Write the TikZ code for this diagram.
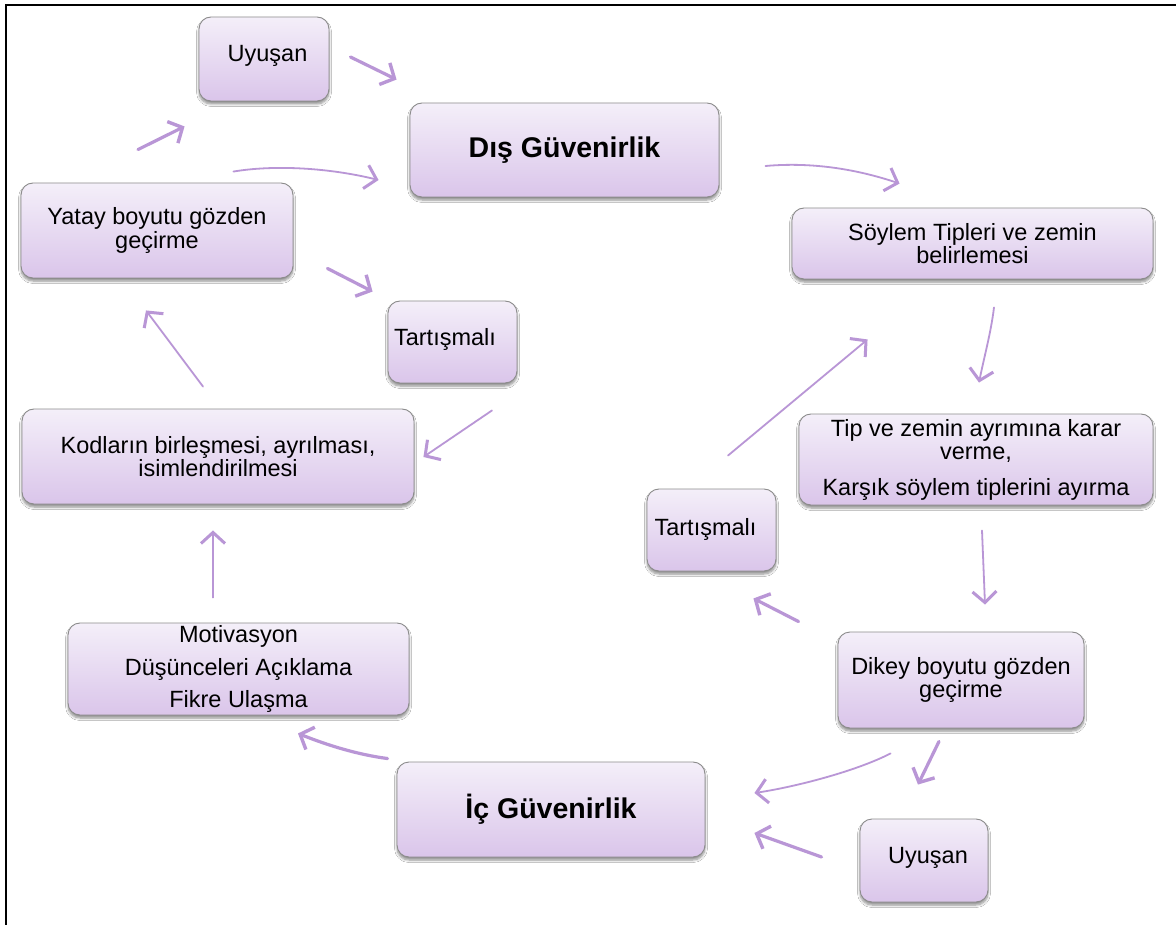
\documentclass[tikz,border=0pt]{standalone}
\usepackage{fontspec}
\setmainfont{Liberation Sans}
\usetikzlibrary{calc,arrows.meta,shadows.blur}
\definecolor{boxtop}{HTML}{F4EFF9}
\definecolor{boxbot}{HTML}{DAC5EA}
\definecolor{boxline}{HTML}{8C8C8C}
\definecolor{arrcol}{HTML}{B996D6}
\tikzset{
  box/.style={rectangle, rounded corners=12pt, draw=boxline, line width=0.9pt,
    top color=boxtop, bottom color=boxbot, inner sep=0pt, align=center,
    font=\fontsize{23.5}{23.5}\selectfont,
    blur shadow={shadow xshift=0pt, shadow yshift=-3pt, shadow blur steps=6, shadow blur radius=2.5pt, shadow opacity=45}},
  bigbox/.style={box, font=\fontsize{28.5}{30}\selectfont\bfseries},
  txt/.style={inner sep=0pt, font=\fontsize{23.5}{23.5}\selectfont},
  harrow/.style={draw=arrcol, line width=3.2pt, line cap=round,
    -{Straight Barb[length=11pt,width=24pt,line width=3.4pt]}},
  larrow/.style={draw=arrcol, line width=1.8pt, line cap=round,
    -{Straight Barb[length=11pt,width=24pt,line width=3pt]}},
}
\begin{document}
\begin{tikzpicture}[x=1pt,y=-1pt]
\useasboundingbox (0,0) rectangle (1176,925);
\fill[white] (0,0) rectangle (1176,925);
% frame
\draw[line width=2pt, black] (6,925) -- (6,5) -- (1176,5);

% boxes
\node[box, minimum width=130pt, minimum height=84pt] (uy1) at (264,59) {};
\node[txt] at (267.5,56) {Uyuşan};
\node[bigbox, minimum width=309pt, minimum height=94pt] (dis) at (564.5,150) {Dış Güvenirlik};
\node[box, minimum width=272pt, minimum height=95pt] (yat) at (157,230.5) {Yatay boyutu gözden\\geçirme};
\node[box, minimum width=129pt, minimum height=82pt] (tl) at (452.5,342) {};
\node[txt] at (445,339) {Tartışmalı};
\node[box, minimum width=392pt, minimum height=95pt] (kod) at (218,456.5) {Kodların birleşmesi, ayrılması,\\isimlendirilmesi};
\node[box, minimum width=341pt, minimum height=92pt] (mot) at (238.5,669) {Motivasyon\\[9pt]Düşünceleri Açıklama\\[9pt]Fikre Ulaşma};
\node[bigbox, minimum width=308pt, minimum height=95pt] (ic) at (551,809.5) {İç Güvenirlik};
\node[box, minimum width=361pt, minimum height=71pt] (soy) at (972.5,243.5) {Söylem Tipleri ve zemin\\belirlemesi};
\node[box, minimum width=354pt, minimum height=91pt] (tip) at (976,459.5) {Tip ve zemin ayrımına karar\\verme,\\[12pt]Karşık söylem tiplerini ayırma};
\node[box, minimum width=129pt, minimum height=82pt] (tr) at (711.5,530) {};
\node[txt] at (705.5,529) {Tartışmalı};
\node[box, minimum width=246pt, minimum height=96pt] (dik) at (961,680) {Dikey boyutu gözden\\geçirme};
\node[box, minimum width=128pt, minimum height=83pt] (uy2) at (924,860.5) {};
\node[txt] at (928,858) {Uyuşan};

% connectors
\draw[harrow] ($(uy1.east)+(21,-2)$) -- ($(dis.north west)+(-13,-23)$);
\draw[harrow] ($(yat.north)+(-19,-33)$) -- ($(uy1.south west)+(-14,25)$);
\draw[larrow] ($(yat.north east)+(-60,-11)$) .. controls +(42,-7) and +(-49,-12) .. ($(dis.west)+(-31,30)$);
\draw[harrow] ($(yat.south east)+(34,-10)$) -- ($(tl.north west)+(-15,-9)$);
\draw[larrow] ($(tl.south)+(39.5,27)$) -- ($(kod.east)+(9,0.5)$);
\draw[larrow] ($(kod.north)+(-15,-22)$) -- ($(yat.south)+(-11,32)$);
\draw[larrow] ($(mot.north)+(-25.5,-25)$) -- ($(kod.south)+(-5,26)$);
\draw[harrow] ($(ic.north west)+(-9,-3)$) .. controls +(-30,-4) and +(30,12) .. ($(mot.south)+(59.5,18)$);
\draw[larrow] ($(dik.south west)+(53,25)$) .. controls +(-35,18) and +(40,-6) .. ($(ic.east)+(49,-16.5)$);
\draw[harrow] ($(dik.south)+(-22,13)$) -- ($(uy2.north)+(-6,-34)$);
\draw[harrow] ($(uy2.west)+(-38,-3.5)$) -- ($(ic.east)+(49,23.5)$);
\draw[harrow] ($(dik.north west)+(-39,-10)$) -- ($(tr.south east)+(-23,27)$);
\draw[larrow] ($(tr.north)+(16.5,-33)$) -- ($(soy.south west)+(76,60)$);
\draw[larrow] ($(soy.south)+(21.5,28)$) .. controls +(-3,25) and +(5,-25) .. ($(tip.north)+(3,-31)$);
\draw[larrow] ($(tip.south)+(6,25)$) -- ($(dik.north)+(24,-27)$);
\draw[larrow] ($(dis.east)+(46,16)$) .. controls +(45,-4) and +(-45,-15) .. ($(soy.north west)+(108,-24)$);
\end{tikzpicture}
\end{document}
